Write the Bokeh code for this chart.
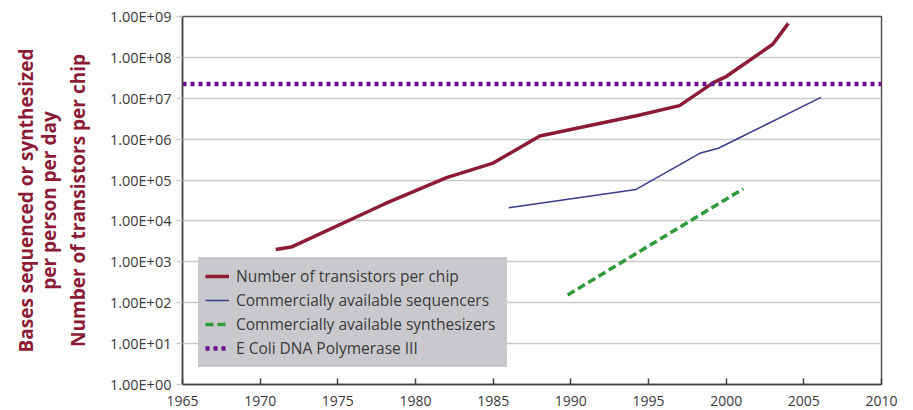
import math
from bokeh.plotting import figure
from bokeh.models import (Range1d, FixedTicker, CustomJSTickFormatter, LinearAxis,
                          Legend, LegendItem)
from bokeh.embed import file_html
from bokeh.resources import INLINE

# ---- data ----
transistor_years = [1971, 1972, 1978, 1982, 1985, 1988, 1994.3, 1997, 1999.2, 2000, 2003, 2004]
transistor_counts = [2000, 2300, 26000, 1.15e5, 2.6e5, 1.2e6, 3.8e6, 6.6e6, 2.45e7, 3.4e7, 2.1e8, 6.8e8]

sequencer_years = [1986, 1994.2, 1998.3, 1999.5, 2006.1]
sequencer_bases = [2.1e4, 5.9e4, 4.5e5, 6.0e5, 1.05e7]

synth_years = [1989.8, 2001.1]
synth_bases = [155, 6.1e4]

ecoli_years = [1965, 2010]
ecoli_rate = [2.25e7, 2.25e7]

x_ticks = [1965, 1970, 1975, 1980, 1985, 1990, 1995, 2000, 2005, 2010]
y_tick_values = [1, 10, 100, 1e3, 1e4, 1e5, 1e6, 1e7, 1e8, 1e9]
y_tick_labels = ["1.00E+00", "1.00E+01", "1.00E+02", "1.00E+03", "1.00E+04",
                 "1.00E+05", "1.00E+06", "1.00E+07", "1.00E+08", "1.00E+09"]

series_names = ["Number of transistors per chip",
                "Commercially available sequencers",
                "Commercially available synthesizers",
                "E Coli DNA Polymerase III"]

# innermost first
y_title_lines = ["Number of transistors per chip", "per person per day",
                 "Bases sequenced or synthesized"]

FONT = "Open Sans"
TEXT = "#3a3a3a"
MAROON = "#8c1c35"
LEGEND_BG = "#c9c9cd"

p = figure(width=913, height=410, y_axis_type="log",
           x_range=Range1d(1965, 2010), y_range=Range1d(1, 1e9),
           output_backend="svg", toolbar_location=None,
           min_border_left=182, min_border_right=32,
           min_border_top=16, min_border_bottom=26)

p.outline_line_color = "#555555"
p.outline_line_width = 1.5
p.background_fill_color = "white"
p.border_fill_color = "white"

# grid
p.xgrid.grid_line_color = None
p.ygrid.grid_line_color = "#c9c9c9"
p.ygrid.grid_line_width = 1.5
p.ygrid.minor_grid_line_color = None

# axes
p.xaxis.ticker = FixedTicker(ticks=x_ticks)
p.xaxis.axis_line_color = "#444444"
p.xaxis.axis_line_width = 1.5
p.xaxis.major_tick_in = 6
p.xaxis.major_tick_out = 0
p.xaxis.major_tick_line_color = "#444444"
p.xaxis.major_tick_line_width = 1.5
p.xaxis.minor_tick_line_color = None
p.xaxis.major_label_text_font = FONT
p.xaxis.major_label_text_font_size = "14px"
p.xaxis.major_label_text_color = TEXT
p.xaxis.major_label_standoff = 11

p.yaxis.ticker = FixedTicker(ticks=y_tick_values)
p.yaxis.formatter = CustomJSTickFormatter(
    args=dict(labels=y_tick_labels),
    code="return labels[Math.round(Math.log10(tick))];")
p.yaxis.axis_line_color = "#444444"
p.yaxis.axis_line_width = 1.5
p.yaxis.major_tick_in = 0
p.yaxis.major_tick_out = 6
p.yaxis.major_tick_line_color = "#c9c9c9"
p.yaxis.major_tick_line_width = 1.5
p.yaxis.minor_tick_line_color = None
p.yaxis.major_label_text_font = FONT
p.yaxis.major_label_text_font_size = "14.5px"
p.yaxis.major_label_text_color = TEXT
p.yaxis.major_label_standoff = 5

# y axis titles as extra label-only axes stacked outward
for standoff, txt in zip([16, 0, -6], y_title_lines):
    ax = LinearAxis(axis_label=txt, ticker=FixedTicker(ticks=[]))
    ax.axis_line_color = None
    ax.major_tick_line_color = None
    ax.minor_tick_line_color = None
    ax.major_tick_in = 0
    ax.major_tick_out = 0
    ax.major_label_text_font_size = "0px"
    ax.major_label_standoff = 0
    ax.axis_label_standoff = standoff
    ax.axis_label_text_font = FONT
    ax.axis_label_text_font_size = "19px"
    ax.axis_label_text_font_style = "bold"
    ax.axis_label_text_color = MAROON
    p.add_layout(ax, "left")

# series
r_tr = p.line(transistor_years, transistor_counts, line_color=MAROON, line_width=3.5)
r_seq = p.line(sequencer_years, sequencer_bases, line_color="#3b3b8c", line_width=1.5)
r_syn = p.line(synth_years, synth_bases, line_color="#2f9a3a", line_width=3.5,
               line_dash="8 4")
r_eco = p.line(ecoli_years, ecoli_rate, line_color="#6a1090", line_width=4.5,
               line_dash="4 4")

legend = Legend(items=[LegendItem(label=series_names[0], renderers=[r_tr]),
                       LegendItem(label=series_names[1], renderers=[r_seq]),
                       LegendItem(label=series_names[2], renderers=[r_syn]),
                       LegendItem(label=series_names[3], renderers=[r_eco])],
                location=(16, 17), orientation="vertical")
legend.background_fill_color = LEGEND_BG
legend.background_fill_alpha = 1.0
legend.border_line_color = LEGEND_BG
legend.border_line_width = 7
legend.padding = 0
legend.margin = 0
legend.spacing = 0
legend.label_height = 24
legend.glyph_height = 24
legend.glyph_width = 24
legend.label_standoff = 7
legend.label_width = 264
legend.label_text_font = FONT
legend.label_text_font_size = "15.5px"
legend.label_text_color = TEXT
p.add_layout(legend, "center")

open("out.html", "w").write(file_html(p, INLINE))
